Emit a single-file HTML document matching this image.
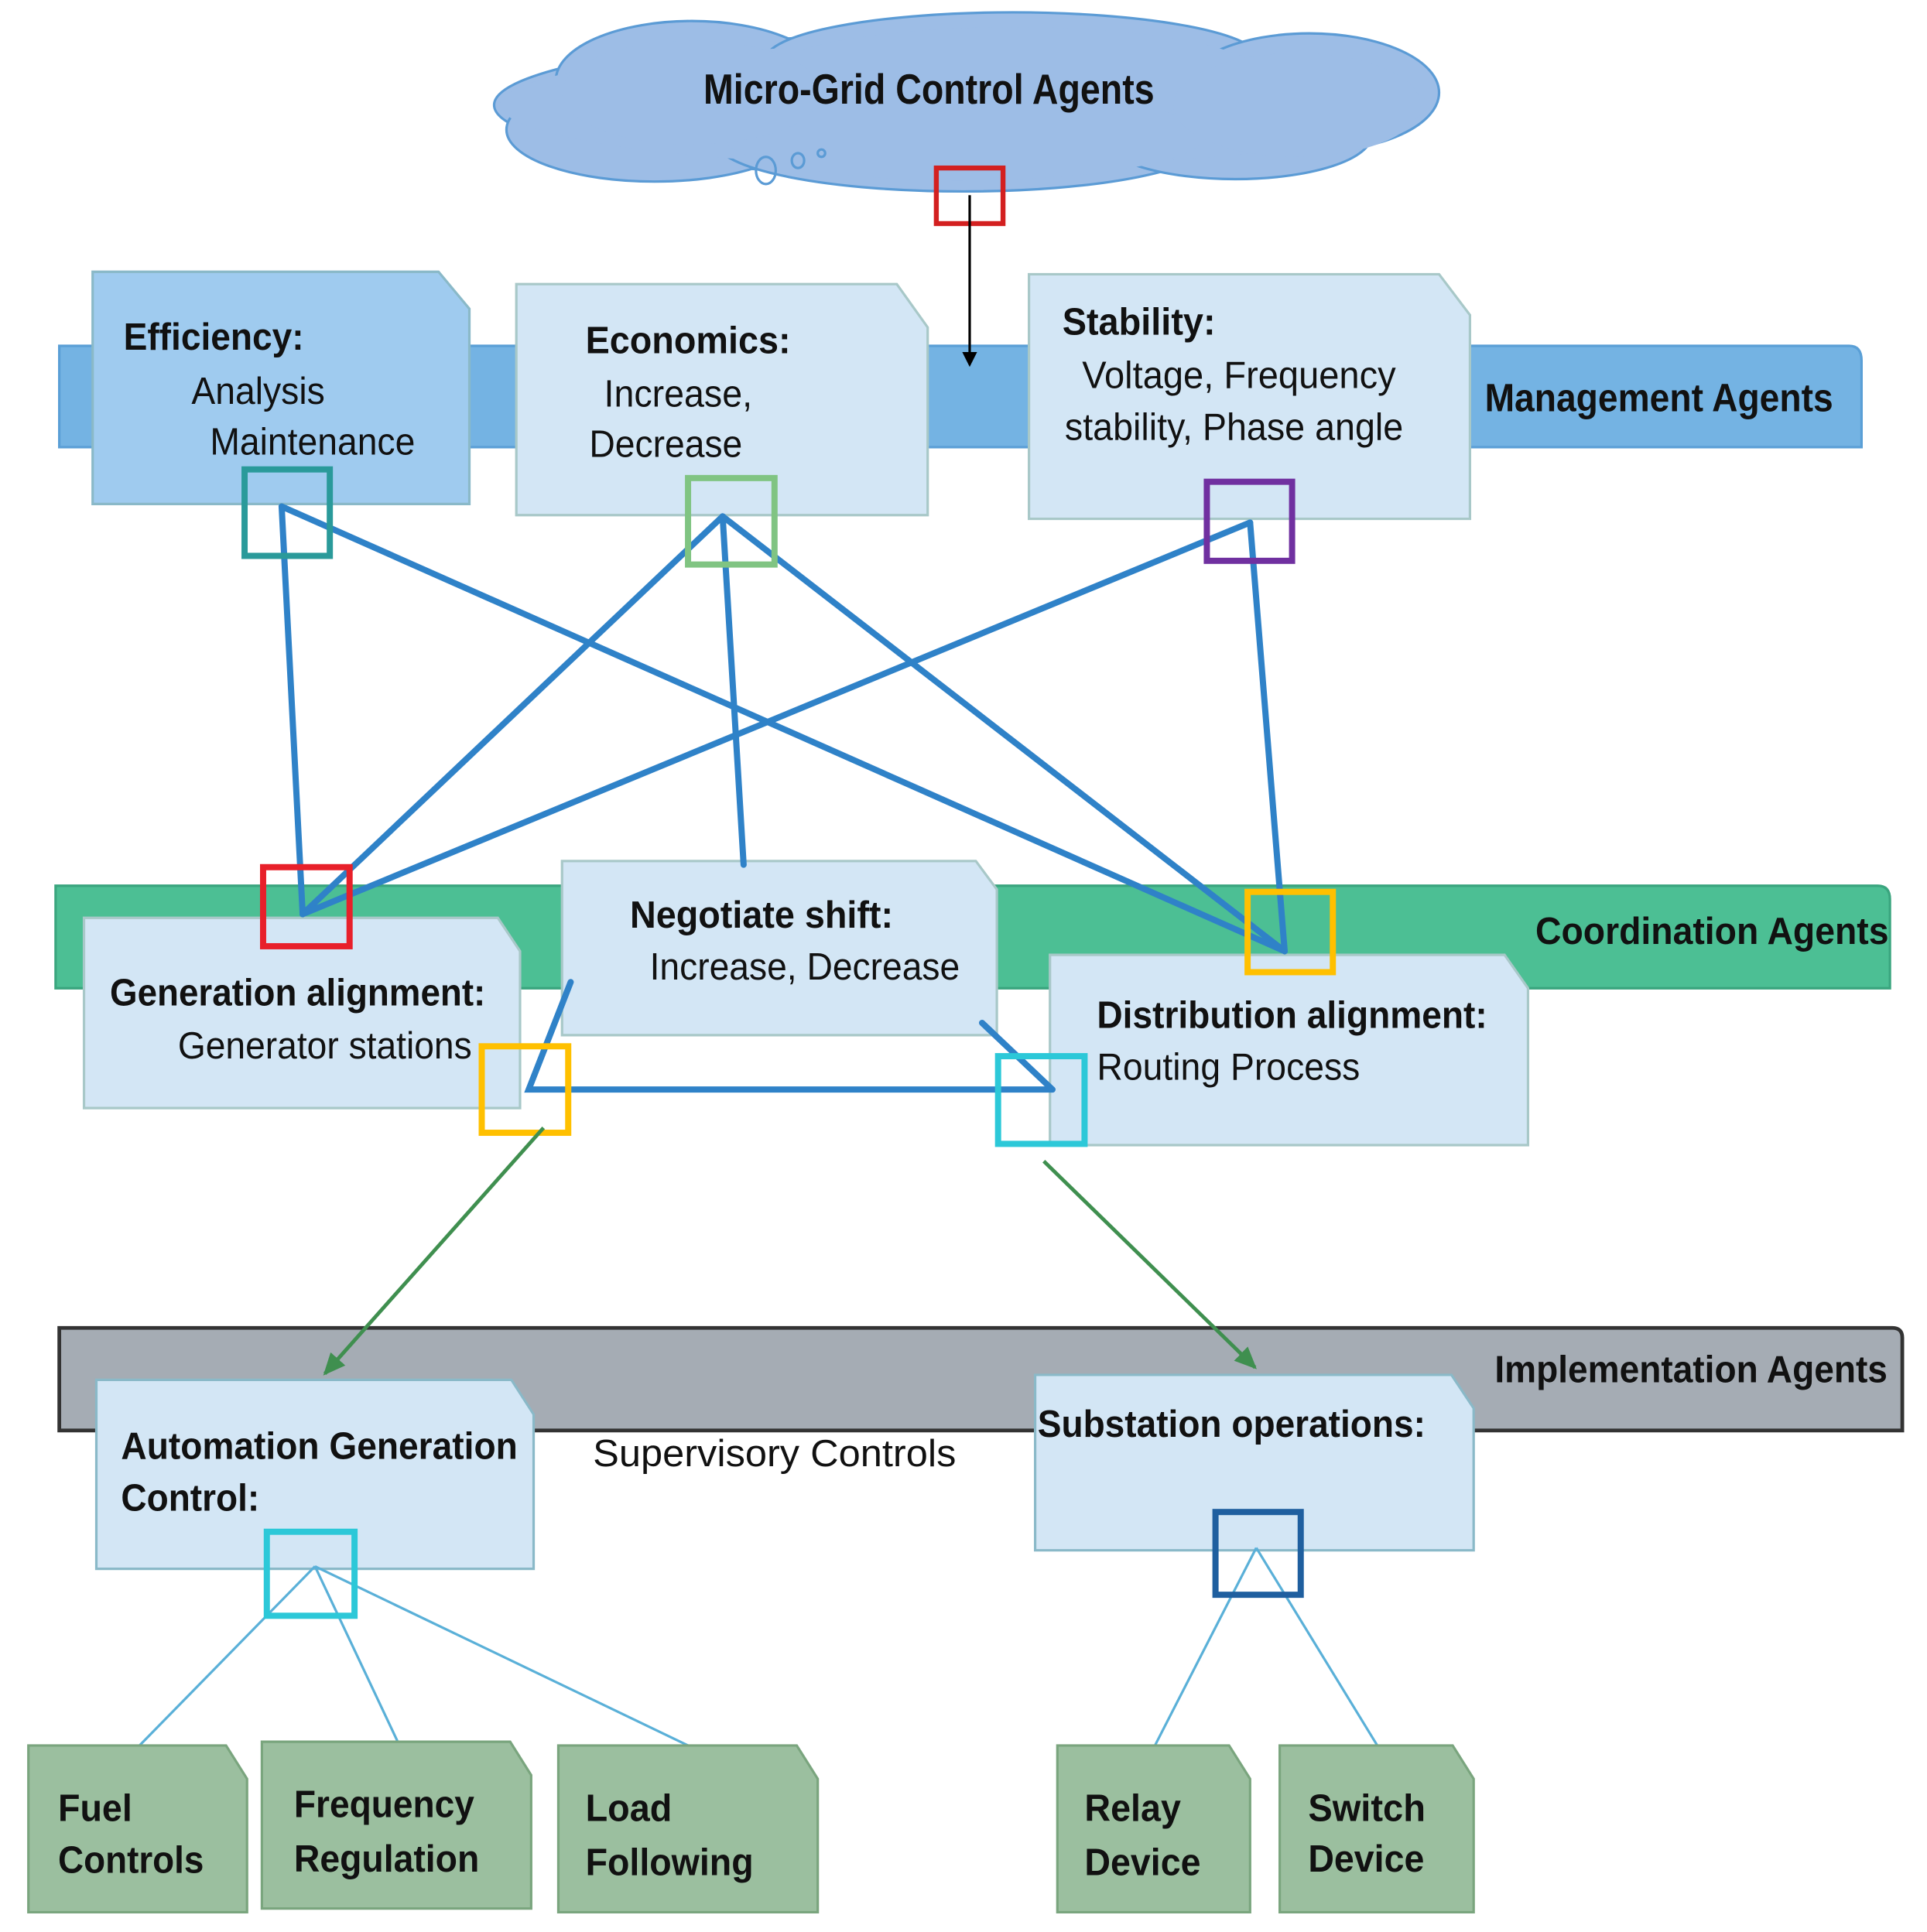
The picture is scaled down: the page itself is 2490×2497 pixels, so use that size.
<!DOCTYPE html>
<html><head><meta charset="utf-8"><style>
html,body{margin:0;padding:0;background:#fff}
svg{display:block}
text{font-family:"Liberation Sans",sans-serif;fill:#111}
.b{font-weight:bold}
</style></head><body>
<svg width="2490" height="2497" viewBox="0 0 1560 1564" preserveAspectRatio="none" xmlns="http://www.w3.org/2000/svg">
<defs>
<marker id="ak" markerWidth="12" markerHeight="12" refX="10" refY="6" orient="auto" markerUnits="userSpaceOnUse"><path d="M0,0 L12,6 L0,12 z" fill="#000"/></marker>
<marker id="ag" markerWidth="20" markerHeight="16" refX="16" refY="8" orient="auto" markerUnits="userSpaceOnUse"><path d="M0,0 L18,8 L0,16 z" fill="#3f8f4f"/></marker>
</defs>
<!-- cloud -->
<g fill="#9dbde6" stroke="#5b9bd5" stroke-width="2">
<ellipse cx="780" cy="85" rx="380" ry="58"/>
<ellipse cx="560" cy="65" rx="110" ry="48"/>
<ellipse cx="820" cy="48" rx="200" ry="38"/>
<ellipse cx="1060" cy="75" rx="105" ry="48"/>
<ellipse cx="530" cy="105" rx="120" ry="42"/>
<ellipse cx="780" cy="115" rx="200" ry="40"/>
<ellipse cx="1000" cy="110" rx="110" ry="35"/>
</g>
<ellipse cx="780" cy="85" rx="375" ry="50" fill="#9dbde6"/>
<ellipse cx="820" cy="60" rx="200" ry="38" fill="#9dbde6"/>
<ellipse cx="780" cy="110" rx="195" ry="36" fill="#9dbde6"/>
<ellipse cx="560" cy="75" rx="105" ry="42" fill="#9dbde6"/>
<ellipse cx="1050" cy="85" rx="100" ry="42" fill="#9dbde6"/>
<g fill="none" stroke="#5b9bd5" stroke-width="2"><ellipse cx="620" cy="138" rx="8" ry="11"/><ellipse cx="646" cy="130" rx="5" ry="6"/><circle cx="665" cy="124" r="3"/></g>
<text x="752" y="84" class="b" font-size="34" text-anchor="middle" textLength="365" lengthAdjust="spacingAndGlyphs">Micro-Grid Control Agents</text>

<!-- management band -->
<path d="M48,280 H1497 Q1507,280 1507,292 V362 H48 Z" fill="#74b3e3" stroke="#5a9fd6" stroke-width="2"/>
<text x="1202" y="333" class="b" font-size="32" textLength="282" lengthAdjust="spacingAndGlyphs">Management Agents</text>
<polygon points="75,220 355,220 380,250 380,408 75,408" fill="#9fcbef" stroke="#8ab9c8" stroke-width="2"/>
<polygon points="418,230 726,230 751,265 751,417 418,417" fill="#d3e6f5" stroke="#a8c8c8" stroke-width="2"/>
<polygon points="833,222 1165,222 1190,255 1190,420 833,420" fill="#d3e6f5" stroke="#a8c8c8" stroke-width="2"/>
<g font-size="31">
<text x="100" y="283" class="b" textLength="146" lengthAdjust="spacingAndGlyphs">Efficiency:</text>
<text x="155" y="327" textLength="108" lengthAdjust="spacingAndGlyphs">Analysis</text>
<text x="170" y="368" textLength="166" lengthAdjust="spacingAndGlyphs">Maintenance</text>
<text x="474" y="286" class="b" textLength="166" lengthAdjust="spacingAndGlyphs">Economics:</text>
<text x="489" y="329" textLength="120" lengthAdjust="spacingAndGlyphs">Increase,</text>
<text x="477" y="370" textLength="124" lengthAdjust="spacingAndGlyphs">Decrease</text>
<text x="860" y="271" class="b" textLength="124" lengthAdjust="spacingAndGlyphs">Stability:</text>
<text x="876" y="314" textLength="254" lengthAdjust="spacingAndGlyphs">Voltage, Frequency</text>
<text x="862" y="356" textLength="274" lengthAdjust="spacingAndGlyphs">stability, Phase angle</text>
</g>

<!-- coordination band -->
<path d="M45,717 H1520 Q1530,717 1530,728 V800 H45 Z" fill="#4cbf94" stroke="#3aa57e" stroke-width="2"/>
<text x="1243" y="764" class="b" font-size="31" textLength="286" lengthAdjust="spacingAndGlyphs">Coordination Agents</text>
<polygon points="455,697 790,697 807,720 807,838 455,838" fill="#d3e6f5" stroke="#a8c8c8" stroke-width="2"/>
<polygon points="68,743 403,743 421,770 421,897 68,897" fill="#d3e6f5" stroke="#a8c8c8" stroke-width="2"/>
<polygon points="850,773 1218,773 1237,800 1237,927 850,927" fill="#d3e6f5" stroke="#a8c8c8" stroke-width="2"/>
<g font-size="31">
<text x="510" y="751" class="b" textLength="213" lengthAdjust="spacingAndGlyphs">Negotiate shift:</text>
<text x="526" y="793" textLength="251" lengthAdjust="spacingAndGlyphs">Increase, Decrease</text>
<text x="89" y="814" class="b" textLength="304" lengthAdjust="spacingAndGlyphs">Generation alignment:</text>
<text x="144" y="857" textLength="238" lengthAdjust="spacingAndGlyphs">Generator stations</text>
<text x="888" y="832" class="b" textLength="316" lengthAdjust="spacingAndGlyphs">Distribution alignment:</text>
<text x="888" y="874" textLength="213" lengthAdjust="spacingAndGlyphs">Routing Process</text>
</g>

<!-- blue connectors -->
<g stroke="#2f82c8" stroke-width="5" fill="none" stroke-linecap="round">
<line x1="228" y1="410" x2="245" y2="740"/>
<line x1="228" y1="410" x2="1040" y2="770"/>
<line x1="585" y1="418" x2="245" y2="740"/>
<line x1="585" y1="418" x2="602" y2="700"/>
<line x1="585" y1="418" x2="1040" y2="770"/>
<line x1="1012" y1="423" x2="245" y2="740"/>
<line x1="1012" y1="423" x2="1040" y2="770"/>
<polyline points="462,795 428,882 852,882"/>
<line x1="795" y1="828" x2="852" y2="882"/>
</g>
<g fill="none" stroke-width="5">
<rect x="198" y="380" width="69" height="70" stroke="#2a9a9a"/>
<rect x="557" y="387" width="70" height="70" stroke="#80c482"/>
<rect x="977" y="390" width="69" height="64" stroke="#7030a0"/>
<rect x="213" y="702" width="70" height="64" stroke="#e8202a"/>
<rect x="1010" y="722" width="69" height="65" stroke="#ffc000"/>
<rect x="390" y="847" width="70" height="70" stroke="#ffc000"/>
<rect x="808" y="855" width="70" height="71" stroke="#2cc8d8"/>
</g>

<!-- implementation band -->
<path d="M48,1075 H1532 Q1540,1075 1540,1083 V1158 H48 Z" fill="#a5acb4" stroke="#333" stroke-width="3"/>
<text x="1210" y="1119" class="b" font-size="31" textLength="318" lengthAdjust="spacingAndGlyphs">Implementation Agents</text>
<polygon points="78,1117 414,1117 432,1145 432,1270 78,1270" fill="#d3e6f5" stroke="#8ab9c8" stroke-width="2"/>
<polygon points="838,1113 1175,1113 1193,1140 1193,1255 838,1255" fill="#d3e6f5" stroke="#8ab9c8" stroke-width="2"/>
<g font-size="31">
<text x="98" y="1181" class="b" textLength="321" lengthAdjust="spacingAndGlyphs">Automation Generation</text>
<text x="98" y="1223" class="b" textLength="112" lengthAdjust="spacingAndGlyphs">Control:</text>
<text x="480" y="1187" textLength="294" lengthAdjust="spacingAndGlyphs">Supervisory Controls</text>
<text x="840" y="1163" class="b" textLength="314" lengthAdjust="spacingAndGlyphs">Substation operations:</text>
</g>
<g stroke="#5ab0d8" stroke-width="2">
<line x1="255" y1="1268" x2="113" y2="1413"/>
<line x1="255" y1="1268" x2="322" y2="1410"/>
<line x1="255" y1="1268" x2="557" y2="1413"/>
<line x1="1017" y1="1253" x2="935" y2="1413"/>
<line x1="1017" y1="1253" x2="1115" y2="1413"/>
</g>
<rect x="216" y="1240" width="71" height="68" fill="none" stroke="#2cc8d8" stroke-width="5"/>
<rect x="984" y="1224" width="69" height="67" fill="none" stroke="#1f5f9f" stroke-width="5"/>

<!-- arrows on top -->
<rect x="758" y="136" width="54" height="45" fill="none" stroke="#d32020" stroke-width="4"/>
<line x1="785" y1="158" x2="785" y2="295" stroke="#000" stroke-width="2" marker-end="url(#ak)"/>
<line x1="440" y1="913" x2="263" y2="1112" stroke="#3f8f4f" stroke-width="3" marker-end="url(#ag)"/>
<line x1="845" y1="940" x2="1016" y2="1107" stroke="#3f8f4f" stroke-width="3" marker-end="url(#ag)"/>

<!-- green leaf boxes -->
<g fill="#9bbf9f" stroke="#7aa57e" stroke-width="2">
<polygon points="23,1413 183,1413 200,1440 200,1548 23,1548"/>
<polygon points="212,1410 413,1410 430,1437 430,1545 212,1545"/>
<polygon points="452,1413 645,1413 662,1440 662,1548 452,1548"/>
<polygon points="856,1413 995,1413 1012,1440 1012,1548 856,1548"/>
<polygon points="1036,1413 1176,1413 1193,1440 1193,1548 1036,1548"/>
</g>
<g font-size="31" class="b">
<text x="47" y="1474" textLength="60" lengthAdjust="spacingAndGlyphs">Fuel</text>
<text x="47" y="1516" textLength="118" lengthAdjust="spacingAndGlyphs">Controls</text>
<text x="238" y="1471" textLength="146" lengthAdjust="spacingAndGlyphs">Frequency</text>
<text x="238" y="1515" textLength="150" lengthAdjust="spacingAndGlyphs">Regulation</text>
<text x="474" y="1474" textLength="70" lengthAdjust="spacingAndGlyphs">Load</text>
<text x="474" y="1518" textLength="136" lengthAdjust="spacingAndGlyphs">Following</text>
<text x="878" y="1474" textLength="78" lengthAdjust="spacingAndGlyphs">Relay</text>
<text x="878" y="1518" textLength="94" lengthAdjust="spacingAndGlyphs">Device</text>
<text x="1059" y="1474" textLength="95" lengthAdjust="spacingAndGlyphs">Switch</text>
<text x="1059" y="1515" textLength="94" lengthAdjust="spacingAndGlyphs">Device</text>
</g>
</svg>
</body></html>
